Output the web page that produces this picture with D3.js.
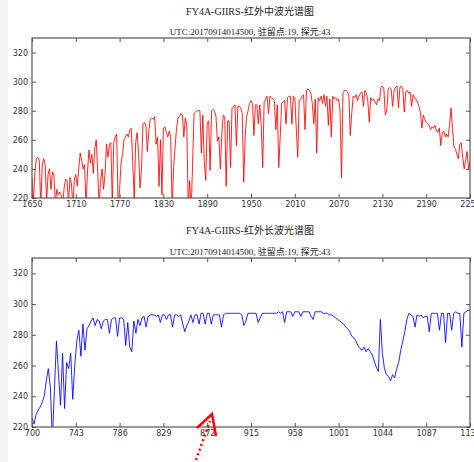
<!DOCTYPE html>
<html>
<head>
<meta charset="utf-8">
<script src="https://cdn.jsdelivr.net/npm/d3@7"></script>
<style>
  body { margin: 0; background: #fff; }
  .tick text { font-family: "DejaVu Sans", sans-serif; font-size: 8px; fill: #333; }
  .tick line { stroke: #555; }
  .ttl { font-family: "Liberation Serif", "Noto Sans CJK SC", serif; fill: #222; text-anchor: middle; }
</style>
</head>
<body>
<svg id="chart" width="474" height="462"></svg>
<script>
// mid-wave spectrum, 1650..2250 cm-1, one value every 2 cm-1
var mwStart = 1650, mwStep = 2;
var mwValues = [
  234,218,238,247,248, 246,214,242,247,243, 218,236,240,226,238, 236,216,226,222,224,
  222,215,227,233,232, 216,234,230,214,233, 236,228,240,251,246, 240,243,215,238,253,
  244,250,237,254,260, 238,214,232,240,226, 236,257,248,257,258, 216,258,262,264,214,
  226,244,250,260,262, 264,262,267,268,245, 220,258,265,250,227, 240,271,272,270,252,
  266,274,275,274,276, 257,262,228,260,222, 268,269,265,262,266, 262,212,241,255,268,
  275,276,278,277,262, 275,270,214,232,210, 244,278,279,280,280, 280,251,277,245,232,
  272,273,239,280,281, 280,276,259,262,240, 264,277,276,228,273, 273,241,282,283,284,
  256,283,283,282,278, 231,262,276,280,285, 287,285,263,284,284, 271,284,270,241,286,
  288,290,278,290,289, 288,287,267,284,241, 262,285,286,287,271, 289,290,290,271,290,
  289,268,248,287,288, 290,291,267,294,295, 294,292,285,271,288, 251,289,287,290,285,
  291,283,290,270,288, 262,290,288,289,287, 288,280,234,292,294, 294,293,291,263,278,
  290,289,291,287,290, 292,293,283,294,292, 287,272,289,287,288, 286,284,288,287,296,
  297,295,277,280,295, 296,295,283,294,296, 297,282,296,297,295, 279,293,294,292,293,
  283,291,289,288,286, 283,279,268,277,274, 272,271,270,267,269, 268,270,266,265,268,
  256,265,266,262,264, 262,270,282,268,255, 254,250,247,257,258, 248,240,246,252,240,
  245
];

// long-wave spectrum, 700..1130 cm-1, one value every 2 cm-1
var lwStart = 700, lwStep = 2;
var lwValues = [
  226,222,228,231,233, 236,240,250,258,246, 212,244,276,255,234, 268,232,262,258,268,
  238,260,276,283,266, 287,270,284,286,289, 291,286,290,289,284, 289,290,290,281,290,
  291,291,279,291,291, 290,273,288,272,269, 289,281,290,286,291, 292,285,292,293,293,
  293,292,293,288,293, 293,290,293,293,285, 293,293,292,293,287, 282,286,289,293,288,
  293,293,287,294,294, 287,294,294,287,293, 293,293,293,285,293, 294,294,294,294,294,
  294,294,294,293,286, 289,294,294,294,294, 294,288,291,294,294, 294,294,294,294,294,
  294,295,294,295,288, 295,295,295,292,295, 295,295,292,295,295, 295,295,292,290,295,
  295,295,295,294,294, 294,293,293,292,291, 290,289,288,287,285, 284,282,279,278,276,
  273,271,270,272,269, 271,269,267,263,259, 256,290,268,258,254, 253,250,254,252,258,
  262,270,276,282,290, 294,293,292,285,293, 292,293,291,292,292, 282,294,294,294,294,
  283,294,294,275,294, 294,283,294,295,294, 294,272,294,295,296,
  296
];

var mwTicks = [1650, 1710, 1770, 1830, 1890, 1950, 2010, 2070, 2130, 2190, 2250];
var lwTicks = [700, 743, 786, 829, 872, 915, 958, 1001, 1044, 1087, 1130];
var yTicks = [220, 240, 260, 280, 300, 320];

var mwTitle = "FY4A-GIIRS-红外中波光谱图";
var lwTitle = "FY4A-GIIRS-红外长波光谱图";
var subTitle = "UTC:20170914014500, 驻留点:19, 探元:43";

var svg = d3.select("#chart");

// faint grey strip on the left of the screenshot
svg.append("rect").attr("x", 0).attr("y", 0).attr("width", 8).attr("height", 462).attr("fill", "#f3f3f3");

function toPoints(start, step, vals) {
  return vals.map(function(v, i) { return [start + i * step, v]; });
}

function drawPanel(p) {
  var left = 32, right = 470;
  var x = d3.scaleLinear().domain([p.ticks[0], p.ticks[p.ticks.length - 1]]).range([left, right]);
  var y = d3.scaleLinear().domain([220, 330]).range([p.bottom, p.top]);

  svg.append("clipPath").attr("id", p.id + "clip")
    .append("rect").attr("x", left).attr("y", p.top).attr("width", right - left).attr("height", p.bottom - p.top);

  var line = d3.line().x(function(d) { return x(d[0]); }).y(function(d) { return y(d[1]); });
  svg.append("path")
    .datum(p.data)
    .attr("clip-path", "url(#" + p.id + "clip)")
    .attr("fill", "none")
    .attr("stroke", p.color)
    .attr("stroke-opacity", 0.85)
    .attr("stroke-width", 1)
    .attr("stroke-linejoin", "round")
    .attr("d", line);

  // ticks point inward on all four sides, labels only left and bottom
  var gb = svg.append("g").attr("transform", "translate(0," + p.bottom + ")")
    .call(d3.axisBottom(x).tickValues(p.ticks).tickSizeInner(-4).tickSizeOuter(0).tickPadding(3).tickFormat(d3.format("d")));
  var gt = svg.append("g").attr("transform", "translate(0," + p.top + ")")
    .call(d3.axisTop(x).tickValues(p.ticks).tickSizeInner(-4).tickSizeOuter(0).tickFormat(""));
  var gl = svg.append("g").attr("transform", "translate(" + left + ",0)")
    .call(d3.axisLeft(y).tickValues(yTicks).tickSizeInner(-4).tickSizeOuter(0).tickPadding(4));
  var gr = svg.append("g").attr("transform", "translate(" + right + ",0)")
    .call(d3.axisRight(y).tickValues(yTicks).tickSizeInner(-4).tickSizeOuter(0).tickFormat(""));
  [gb, gt, gl, gr].forEach(function(g) { g.select(".domain").remove(); });

  svg.append("rect")
    .attr("x", left).attr("y", p.top).attr("width", right - left).attr("height", p.bottom - p.top)
    .attr("fill", "none").attr("stroke", "#555").attr("stroke-width", 1.2);

  svg.append("text").attr("class", "ttl").attr("x", 250).attr("y", p.titleY)
    .style("font-size", "10px").text(p.title);
  svg.append("text").attr("class", "ttl").attr("x", 250).attr("y", p.subY)
    .style("font-size", "9px").text(subTitle);
}

drawPanel({ id: "mw", top: 38, bottom: 198, ticks: mwTicks, color: "#ff0000",
  data: toPoints(mwStart, mwStep, mwValues), title: mwTitle, titleY: 15, subY: 35 });
drawPanel({ id: "lw", top: 258, bottom: 427, ticks: lwTicks, color: "#0000ff",
  data: toPoints(lwStart, lwStep, lwValues), title: lwTitle, titleY: 234, subY: 255 });

// hand-drawn red dotted arrow on the screenshot
svg.append("line").attr("x1", 196).attr("y1", 460).attr("x2", 210).attr("y2", 421)
  .attr("stroke", "#f00").attr("stroke-width", 2.5).attr("stroke-dasharray", "2,3");
svg.append("polyline").attr("points", "197,428 212,414 216,436")
  .attr("fill", "none").attr("stroke", "#f00").attr("stroke-width", 2.5);
</script>
</body>
</html>
